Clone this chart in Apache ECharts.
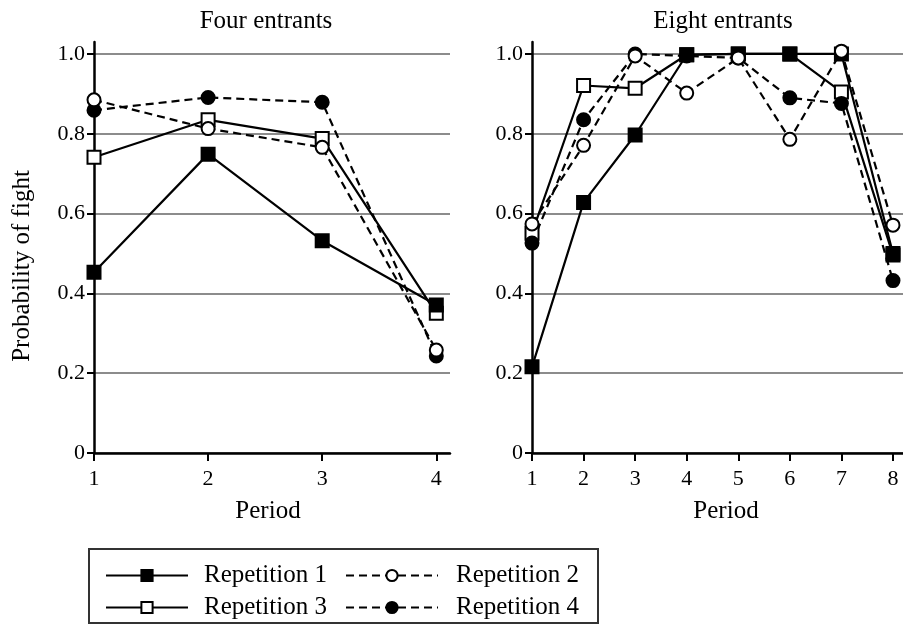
<!DOCTYPE html>
<html>
<head>
<meta charset="utf-8">
<script src="https://cdn.jsdelivr.net/npm/echarts@6/dist/echarts.min.js"></script>
<style>
  html, body { margin: 0; padding: 0; background: #fff; }
  #main { width: 903px; height: 627px; }
</style>
</head>
<body>
<div id="main"></div>
<script>
// periods on each panel
const periodsFour = [1, 2, 3, 4];
const periodsEight = [1, 2, 3, 4, 5, 6, 7, 8];
const yTicks = [0, 0.2, 0.4, 0.6, 0.8, 1.0];

// Four entrants
const fourRep1 = [0.453, 0.749, 0.532, 0.371];
const fourRep2 = [0.885, 0.813, 0.766, 0.258];
const fourRep3 = [0.741, 0.835, 0.788, 0.350];
const fourRep4 = [0.859, 0.891, 0.879, 0.243];

// Eight entrants
const eightRep1 = [0.216, 0.628, 0.797, 0.998, 1.0, 1.0, 1.0, 0.50];
const eightRep2 = [0.574, 0.771, 0.995, 0.902, 0.99, 0.786, 1.007, 0.571];
const eightRep3 = [0.551, 0.921, 0.914, 0.998, 1.0, 1.0, 0.905, 0.496];
const eightRep4 = [0.526, 0.835, 1.0, 0.995, 0.99, 0.89, 0.876, 0.432];

const FONT = "Liberation Serif";
const DASH = [8, 5];

const reps = {
  "Repetition 1": { symbol: "rect", fill: "#000", dash: "solid" },
  "Repetition 2": { symbol: "circle", fill: "#fff", dash: DASH },
  "Repetition 3": { symbol: "rect", fill: "#fff", dash: "solid" },
  "Repetition 4": { symbol: "circle", fill: "#000", dash: DASH },
};

function pairs(xs, ys) {
  return xs.map((x, i) => [x, ys[i]]);
}

function makeSeries(name, idx, xs, ys) {
  const r = reps[name];
  return {
    name: name,
    type: "line",
    xAxisIndex: idx,
    yAxisIndex: idx,
    data: pairs(xs, ys),
    symbol: r.symbol,
    symbolSize: 13,
    lineStyle: { color: "#000", width: 2.2, type: r.dash },
    itemStyle: { color: r.fill, borderColor: "#000", borderWidth: 2 },
    emphasis: { disabled: true },
    animation: false,
  };
}

function xAxisFor(idx, ticks, max) {
  return {
    type: "value",
    gridIndex: idx,
    min: 1,
    max: max,
    axisLine: { lineStyle: { color: "#000", width: 2.5 } },
    axisTick: { customValues: ticks, length: 8, lineStyle: { color: "#000", width: 2 } },
    axisLabel: { customValues: ticks, color: "#000", fontFamily: FONT, fontSize: 22, margin: 15 },
    splitLine: { show: false },
  };
}

function yAxisFor(idx) {
  return {
    type: "value",
    gridIndex: idx,
    min: 0,
    max: 1.03,
    axisLine: { show: true, lineStyle: { color: "#000", width: 2.5 } },
    axisTick: { show: true, customValues: yTicks, length: 7, lineStyle: { color: "#000", width: 2 } },
    axisLabel: {
      customValues: yTicks,
      color: "#000",
      fontFamily: FONT,
      fontSize: 22,
      margin: 9,
      formatter: (v) => (v === 0 ? "0" : v.toFixed(1)),
    },
    splitLine: { show: true, lineStyle: { color: "#8c8c8c", width: 2 } },
  };
}

// one legend per entry so the 2x2 box is placed exactly
function legendItem(name, left, top, iconW, gap) {
  return {
    left: left,
    top: top,
    padding: 0,
    itemWidth: iconW,
    itemHeight: 14,
    selectedMode: false,
    data: [name],
    textStyle: { color: "#000", fontFamily: FONT, fontSize: 25, lineHeight: 24, padding: [0, 0, 0, gap] },
  };
}

const myChart = echarts.init(document.getElementById("main"));
const option = {
  backgroundColor: "#fff",
  animation: false,
  title: [
    { text: "Four entrants", left: 261, top: 4, textAlign: "center",
      textStyle: { fontFamily: FONT, fontSize: 25, fontWeight: "normal", color: "#000" } },
    { text: "Eight entrants", left: 718, top: 4, textAlign: "center",
      textStyle: { fontFamily: FONT, fontSize: 25, fontWeight: "normal", color: "#000" } },
    { text: "Period", left: 263, top: 494, textAlign: "center",
      textStyle: { fontFamily: FONT, fontSize: 25, fontWeight: "normal", color: "#000" } },
    { text: "Period", left: 721, top: 494, textAlign: "center",
      textStyle: { fontFamily: FONT, fontSize: 25, fontWeight: "normal", color: "#000" } },
  ],
  grid: [
    { left: 94, top: 42, width: 356, height: 411 },
    { left: 532, top: 42, right: 0, height: 411 },
  ],
  xAxis: [xAxisFor(0, periodsFour, 4.12), xAxisFor(1, periodsEight, 8.194)],
  yAxis: [yAxisFor(0), yAxisFor(1)],
  legend: [
    legendItem("Repetition 1", 105, 563, 82, 11),
    legendItem("Repetition 3", 105, 595, 82, 11),
    legendItem("Repetition 2", 345, 563, 92, 13),
    legendItem("Repetition 4", 345, 595, 92, 13),
  ],
  graphic: [
    {
      type: "rect",
      shape: { x: 89, y: 549, width: 509, height: 74 },
      style: { fill: "none", stroke: "#333", lineWidth: 2 },
      silent: true,
    },
    {
      type: "text",
      x: 22,
      y: 266,
      rotation: Math.PI / 2,
      style: {
        text: "Probability of fight",
        font: "25px " + FONT,
        fill: "#000",
        align: "center",
        verticalAlign: "middle",
      },
      silent: true,
    },
  ],
  series: [
    makeSeries("Repetition 3", 0, periodsFour, fourRep3),
    makeSeries("Repetition 1", 0, periodsFour, fourRep1),
    makeSeries("Repetition 4", 0, periodsFour, fourRep4),
    makeSeries("Repetition 2", 0, periodsFour, fourRep2),
    makeSeries("Repetition 3", 1, periodsEight, eightRep3),
    makeSeries("Repetition 1", 1, periodsEight, eightRep1),
    makeSeries("Repetition 4", 1, periodsEight, eightRep4),
    makeSeries("Repetition 2", 1, periodsEight, eightRep2),
  ],
};
myChart.setOption(option);
</script>
</body>
</html>
